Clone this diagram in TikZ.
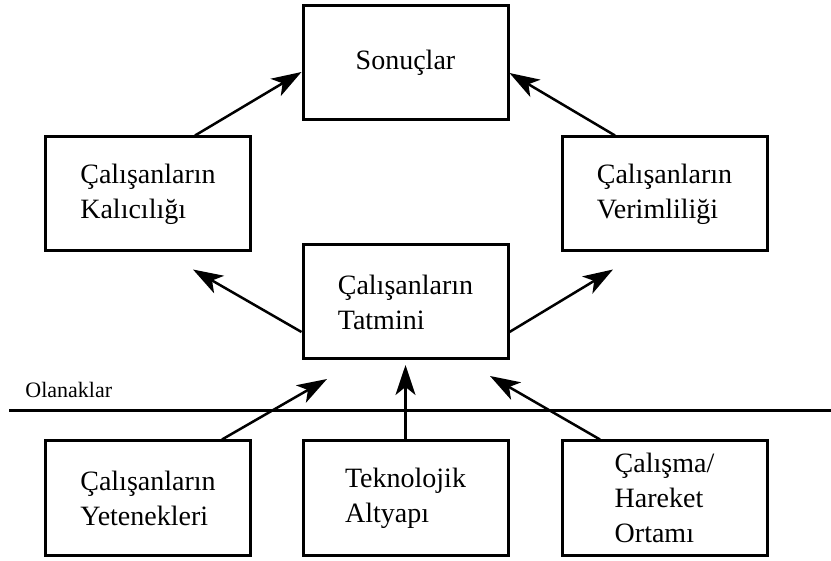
\documentclass[tikz,border=0pt]{standalone}
\usepackage{fontspec}
\setmainfont{Liberation Serif}
\usetikzlibrary{arrows.meta,calc,positioning}

\tikzset{
  kutu/.style={draw, line width=1.5pt, minimum width=102.5pt, minimum height=57pt,
    align=left, inner sep=2pt, font=\fontsize{14}{17.5}\selectfont},
  ok/.style={line width=1.25pt, -{Stealth[length=15pt, width=10pt, inset=4pt]}}
}

\begin{document}
\begin{tikzpicture}[x=0.5pt, y=-0.5pt]
    \useasboundingbox (0,0) rectangle (831,561);

    % ust kisim
    \node[kutu] (son) at (405.5, 63) {Sonuçlar};
    \node[kutu] (kal) at (148, 194) {Çalışanların\\Kalıcılığı};
    \node[kutu] (ver) at (664.5, 194) {Çalışanların\\Verimliliği};
    \node[kutu] (tat) at (405.5, 302) {Çalışanların\\Tatmini};

    % olanaklar
    \node[kutu] (yet) at (148, 498) {Çalışanların\\Yetenekleri};
    \node[kutu] (tek) at (405.5, 498) {Teknolojik\\Altyapı};
    \node[kutu] (cal) at (664.5, 498) {Çalışma/\\Hareket\\Ortamı};

    \coordinate (cizgiL) at (9, 411);
    \coordinate (cizgiR) at (831, 411);
    \draw[line width=1.5pt] (cizgiL) -- (cizgiR);
    \node[anchor=base west, inner sep=0pt, font=\fontsize{11}{13}\selectfont] (ol) at (25, 398) {Olanaklar};

    % oklar
    \draw[ok] ($(kal.north)+(47,0)$) -- ($(son.west)+(0,9)$);
    \draw[ok] ($(ver.north)+(-49.5,0)$) -- ($(son.east)+(0,10)$);
    \draw[ok] ($(tat.west)+(0,30)$) -- ($(kal.south)+(45,17)$);
    \draw[ok] ($(tat.east)+(0,30)$) -- ($(ver.south)+(-51.5,17)$);
    \draw[ok] ($(yet.north)+(74,0)$) -- ($(tat.south)+(-78.5,18.5)$);
    \draw[ok] (tek.north) -- ($(tat.south)+(0,4.5)$);
    \draw[ok] ($(cal.north)+(-64.5,0)$) -- ($(tat.south)+(84.5,15.5)$);
\end{tikzpicture}
\end{document}
